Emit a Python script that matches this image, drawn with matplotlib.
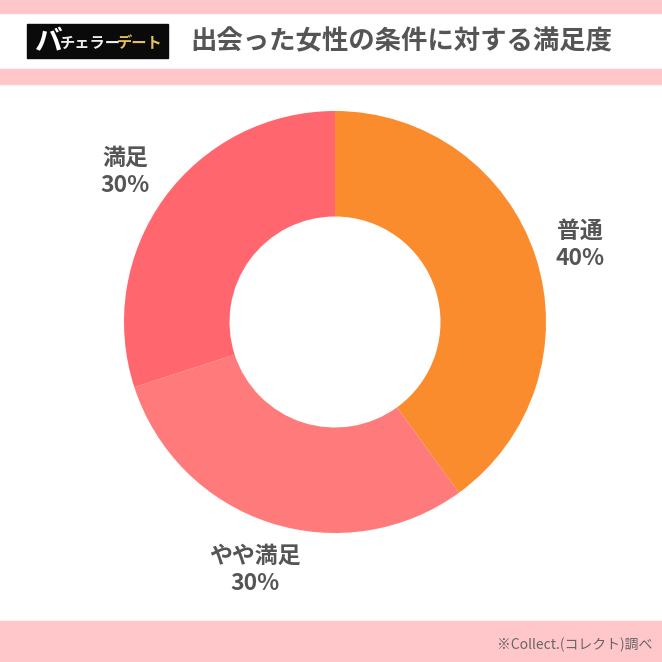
import matplotlib.pyplot as plt
from matplotlib.patches import Rectangle

plt.rcParams['font.family'] = ['Noto Sans CJK JP', 'DejaVu Sans']

labels = ['普通', 'やや満足', '満足']
values = [40, 30, 30]
colors = ['#FB8C2D', '#FF7B7B', '#FF666E']
title = '出会った女性の条件に対する満足度'
source = '※Collect.(コレクト)調べ'

W = H = 662
fig = plt.figure(figsize=(6.62, 6.62), dpi=100)
bg = fig.add_axes([0, 0, 1, 1])
bg.set_xlim(0, W)
bg.set_ylim(H, 0)
bg.axis('off')
pink = '#FFC7C9'
bg.add_patch(Rectangle((0, 0), W, 13, color=pink))
bg.add_patch(Rectangle((0, 69), W, 15, color=pink))
bg.add_patch(Rectangle((0, 621), W, 41, color=pink))
bg.add_patch(Rectangle((27, 24), 141, 34, color='#0a0a0a'))
bg.text(35, 42, 'バ', color='white', fontsize=20, fontweight='bold', va='center')
bg.text(60, 43, 'チェラー', color='#eeeeee', fontsize=11, fontweight='bold', va='center')
bg.text(117, 43, 'デート', color='#E8C25A', fontsize=11, fontweight='bold', va='center')
bg.text(190, 42, title, color='#555555', fontsize=19, fontweight='bold', va='center')
bg.text(652, 645, source, color='#666666', fontsize=10, ha='right', va='center')

cx, cy, r = 335, 322, 211
ax = fig.add_axes([(cx - r) / W, 1 - (cy + r) / H, 2 * r / W, 2 * r / H])
ax.pie(values, colors=colors, startangle=90, counterclock=False,
       wedgeprops=dict(width=0.5, edgecolor='none'))
ax.set_xlim(-1, 1)
ax.set_ylim(-1, 1)
ax.set_aspect('equal')

pos = [(580, 245), (255, 570), (125, 172)]
for (x, y), lab, v in zip(pos, labels, values):
    bg.text(x, y, f'{lab}\n{v}%', ha='center', va='center', color='#555555',
            fontsize=16.5, fontweight='bold', linespacing=1.25)

fig.savefig('out.png', dpi=100)
